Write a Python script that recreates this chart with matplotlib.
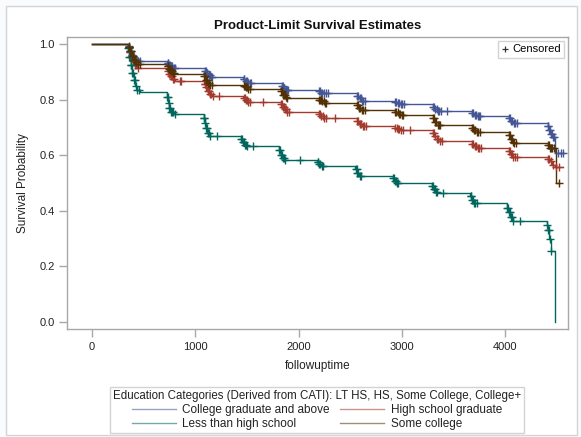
import numpy as np
import matplotlib
matplotlib.use('Agg')
import matplotlib.pyplot as plt
from matplotlib.lines import Line2D
from matplotlib.patches import Rectangle

plt.rcParams['font.family'] = ['Liberation Sans', 'DejaVu Sans']

# Kaplan-Meier step curves per education group (time in days, survival)
college_t = [0, 352, 365, 378, 392, 410, 438,
             730, 745, 760, 782,
             1090, 1105, 1122, 1145,
             1465, 1485, 1510,
             1835, 1850, 1870,
             2195, 2215, 2240,
             2565, 2585, 2610,
             2935, 2955, 2985,
             3300, 3320, 3345,
             3680, 3700, 3730,
             4035, 4055, 4080,
             4410, 4425, 4440, 4455, 4482, 4560]
college_s = [1.000, 0.992, 0.975, 0.962, 0.953, 0.947, 0.941,
             0.933, 0.926, 0.920, 0.913,
             0.905, 0.897, 0.889, 0.881,
             0.874, 0.867, 0.859,
             0.851, 0.844, 0.836,
             0.830, 0.826, 0.823,
             0.815, 0.806, 0.797,
             0.791, 0.787, 0.784,
             0.775, 0.766, 0.758,
             0.751, 0.745, 0.741,
             0.733, 0.724, 0.716,
             0.705, 0.690, 0.677, 0.667, 0.607, 0.607]
college_cens = [358, 368, 375, 385, 396, 405, 418, 430, 445, 460,
                732, 740, 750, 758, 768, 778, 790, 800,
                1092, 1100, 1110, 1118, 1130, 1140, 1152, 1165,
                1468, 1475, 1490, 1498, 1515, 1525, 1540,
                1838, 1845, 1855, 1862, 1875, 1885, 1900,
                2198, 2205, 2220, 2230, 2250, 2262, 2280,
                2568, 2575, 2590, 2600, 2615, 2625, 2640,
                2938, 2945, 2962, 2970, 2990, 3000, 3020,
                3303, 3310, 3325, 3335, 3350, 3360, 3375, 3436,
                3683, 3690, 3705, 3715, 3735, 3745, 3760,
                4038, 4045, 4060, 4070, 4085, 4095, 4110,
                4412, 4418, 4428, 4435, 4445, 4450, 4460, 4470, 4515, 4540, 4560]

hs_t = [0, 350, 362, 375, 390, 410, 440,
        728, 740, 755, 775, 800,
        1085, 1100, 1115, 1135, 1160,
        1465, 1480, 1505,
        1825, 1840, 1860, 1885,
        2195, 2215, 2245,
        2565, 2585, 2615,
        2935, 2960, 2990,
        3300, 3315, 3335, 3365,
        3680, 3700, 3730,
        4035, 4050, 4075,
        4410, 4430, 4455, 4480, 4560]
hs_s = [1.000, 0.990, 0.972, 0.955, 0.940, 0.925, 0.913,
        0.903, 0.893, 0.884, 0.874, 0.868,
        0.858, 0.845, 0.832, 0.821, 0.813,
        0.806, 0.800, 0.793,
        0.785, 0.775, 0.766, 0.757,
        0.750, 0.741, 0.733,
        0.724, 0.714, 0.705,
        0.699, 0.694, 0.691,
        0.680, 0.668, 0.658, 0.652,
        0.642, 0.634, 0.628,
        0.617, 0.606, 0.595,
        0.588, 0.578, 0.565, 0.559, 0.559]
hs_cens = [355, 366, 372, 382, 395, 402, 415, 428, 450,
           732, 745, 752, 762, 770, 782, 795, 852, 862,
           1090, 1098, 1108, 1120, 1130, 1142, 1155, 1170, 1230,
           1468, 1478, 1488, 1498, 1510, 1525, 1655,
           1828, 1835, 1848, 1855, 1868, 1878, 1892, 1905,
           2198, 2208, 2220, 2232, 2250, 2265, 2352,
           2568, 2578, 2592, 2602, 2620, 2632, 2650,
           2938, 2948, 2965, 2975, 2995, 3010, 3078,
           3303, 3312, 3322, 3340, 3350, 3370, 3385,
           3683, 3692, 3708, 3718, 3735, 3750, 3765,
           4038, 4045, 4058, 4068, 4080, 4092, 4110,
           4415, 4425, 4440, 4462, 4490, 4520]

lths_t = [0, 345, 360, 375, 390, 405, 420, 440, 460,
          728, 738, 750, 765, 790,
          1080, 1090, 1100, 1115, 1140,
          1440, 1455, 1475, 1500,
          1810, 1825, 1845, 1870,
          2180, 2195, 2215,
          2550, 2565, 2580,
          2915, 2930, 2945,
          3290, 3305, 3325, 3340,
          3660, 3680, 3700,
          4020, 4035, 4050, 4075,
          4400, 4412, 4425, 4440, 4482]
lths_s = [1.000, 0.985, 0.955, 0.925, 0.895, 0.870, 0.850, 0.835, 0.828,
          0.810, 0.790, 0.772, 0.757, 0.750,
          0.735, 0.715, 0.697, 0.680, 0.669,
          0.660, 0.648, 0.638, 0.632,
          0.618, 0.603, 0.592, 0.585,
          0.577, 0.569, 0.561,
          0.550, 0.537, 0.526,
          0.518, 0.507, 0.499,
          0.490, 0.478, 0.468, 0.463,
          0.452, 0.438, 0.427,
          0.412, 0.395, 0.378, 0.365,
          0.350, 0.330, 0.300, 0.254, 0.000]
lths_cens = [348, 355, 362, 368, 375, 382, 390, 398, 405, 415, 425, 440, 455,
             730, 736, 742, 750, 758, 766, 775, 785, 800,
             1082, 1088, 1095, 1102, 1110, 1120, 1130, 1145, 1210,
             1445, 1452, 1462, 1470, 1480, 1492, 1505, 1560,
             1815, 1822, 1830, 1840, 1850, 1860, 1872, 2013,
             2185, 2192, 2200, 2210, 2222, 2235,
             2555, 2562, 2570, 2578, 2590, 2602,
             2918, 2925, 2935, 2942, 2952, 2965,
             3292, 3300, 3310, 3318, 3328, 3338, 3398,
             3665, 3672, 3682, 3690, 3700, 3712, 3725,
             4022, 4030, 4038, 4045, 4055, 4065, 4080, 4143,
             4405, 4412, 4420, 4432, 4448]

some_t = [0, 352, 365, 380, 400, 425, 445,
          730, 742, 758, 780, 800,
          1085, 1100, 1118, 1140,
          1465, 1490, 1515,
          1825, 1845, 1868, 1890,
          2195, 2220, 2250,
          2565, 2585, 2610,
          2935, 2960, 2990,
          3300, 3320, 3345,
          3680, 3700, 3725,
          4035, 4050, 4070, 4085,
          4410, 4430, 4490, 4525]
some_s = [1.000, 0.990, 0.975, 0.958, 0.944, 0.935, 0.930,
          0.921, 0.912, 0.903, 0.896, 0.894,
          0.884, 0.872, 0.862, 0.854,
          0.850, 0.845, 0.840,
          0.830, 0.819, 0.811, 0.807,
          0.800, 0.794, 0.790,
          0.782, 0.772, 0.764,
          0.757, 0.750, 0.745,
          0.733, 0.720, 0.711,
          0.700, 0.690, 0.685,
          0.672, 0.658, 0.648, 0.643,
          0.636, 0.627, 0.499, 0.499]
some_cens = [356, 362, 370, 378, 386, 395, 405, 415, 430, 445, 460,
             732, 740, 748, 756, 765, 775, 785, 798,
             1088, 1095, 1105, 1112, 1122, 1132, 1145, 1160,
             1468, 1478, 1490, 1502, 1515, 1530,
             1828, 1836, 1845, 1855, 1865, 1878, 1892,
             2198, 2206, 2218, 2228, 2242, 2255, 2270,
             2568, 2576, 2588, 2598, 2612, 2625, 2640,
             2938, 2946, 2958, 2970, 2985, 2998, 3015,
             3303, 3311, 3322, 3332, 3345, 3358, 3372,
             3683, 3690, 3702, 3712, 3725, 3738, 3752,
             4038, 4045, 4055, 4065, 4078, 4090, 4105,
             4412, 4420, 4430, 4440, 4455, 4470, 4525]

groups = ['College graduate and above', 'High school graduate',
          'Less than high school', 'Some college']
colors = ['#445694', '#A23A2E', '#01665E', '#543005']
x_ticks = [0, 1000, 2000, 3000, 4000]
y_ticks = [0.0, 0.2, 0.4, 0.6, 0.8, 1.0]


def surv_at(t, times, surv):
    times = np.asarray(times)
    idx = np.searchsorted(times, t, side='right') - 1
    return np.asarray(surv)[idx]


fig = plt.figure(figsize=(5.81, 4.37), dpi=100, facecolor='#fafbfc')
fig.patches.append(Rectangle((6 / 581, 2 / 437), 571 / 581, 429 / 437,
                             transform=fig.transFigure, facecolor='white',
                             edgecolor='#d4d4d4', linewidth=1, zorder=-5))

ax = fig.add_axes([67 / 581, 1 - 329 / 437, 501 / 581, 292 / 437])
ax.set_zorder(1)

curves = [(college_t, college_s, college_cens),
          (hs_t, hs_s, hs_cens),
          (lths_t, lths_s, lths_cens),
          (some_t, some_s, some_cens)]

handles = []
for (t, s, cens), name, col in zip(curves, groups, colors):
    ax.step(t, s, where='post', color=col, linewidth=1.0, zorder=3)
    ax.plot(cens, surv_at(cens, t, s), linestyle='none', marker='+',
            markersize=5.5, markeredgewidth=1.0, color=col, zorder=4)
    handles.append(Line2D([], [], color=col, linewidth=1.0, alpha=0.55))

ax.set_xlim(-242, 4608)
ax.set_ylim(-0.025, 1.026)
ax.set_xticks(x_ticks)
ax.set_yticks(y_ticks)
ax.set_yticklabels([f'{v:.1f}' for v in y_ticks])

for sp in ax.spines.values():
    sp.set_color('#a8a8a8')
    sp.set_linewidth(1.0)
ax.tick_params(axis='both', colors='#a8a8a8', labelcolor='#222222',
               labelsize=8, length=6, width=1, pad=3)

ax.set_xlabel('followuptime', fontsize=8.5, color='#222222', labelpad=6)
ax.set_ylabel('Survival Probability', fontsize=8.5, color='#222222', labelpad=7)
ax.set_title('Product-Limit Survival Estimates', fontsize=9.5,
             fontweight='bold', color='#111111', pad=5.5)

# censored marker key, upper right inside the plot
cens_key = Line2D([], [], linestyle='none', marker='+', color='#333333',
                  markersize=4, markeredgewidth=0.9)
leg1 = ax.legend([cens_key], ['Censored'], loc='upper right',
                 bbox_to_anchor=(0.993, 0.986), fontsize=8,
                 frameon=True, fancybox=False, edgecolor='#c8c8c8',
                 handlelength=0.6, handletextpad=0.4, borderpad=0.3,
                 borderaxespad=0.0)
leg1.get_frame().set_linewidth(1.0)

# group key below the plot, filled row by row
order = [0, 2, 1, 3]
leg2 = fig.legend([handles[i] for i in order], [groups[i] for i in order],
                  loc='upper center', bbox_to_anchor=(317 / 581, 1 - 381.5 / 437),
                  ncol=2, fontsize=8.5,
                  title='Education Categories (Derived from CATI): LT HS, HS, Some College, College+',
                  title_fontsize=8.3, frameon=True, fancybox=False,
                  edgecolor='#c8c8c8', handlelength=3.7, handletextpad=0.55,
                  columnspacing=0.9, borderpad=0.25, labelspacing=0.15)
leg2.get_frame().set_linewidth(1.0)
for txt in leg2.get_texts():
    txt.set_color('#222222')
leg2.get_title().set_color('#222222')

fig.savefig('out.png', dpi=100, facecolor=fig.get_facecolor())
